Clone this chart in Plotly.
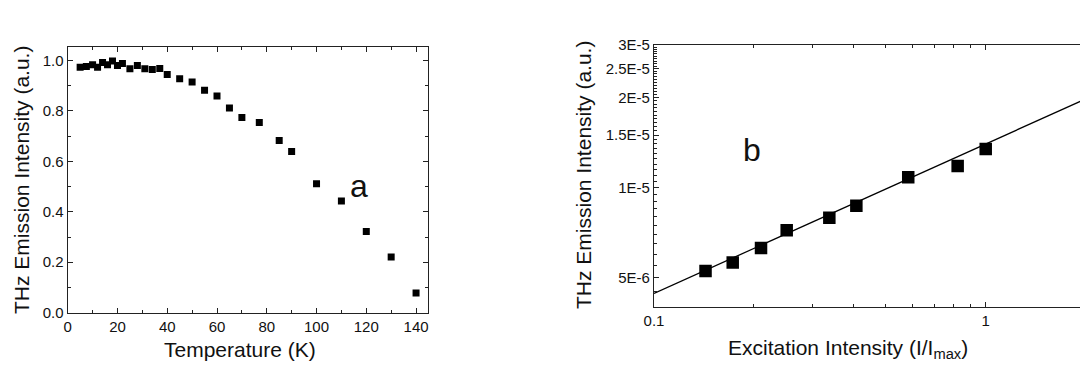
import plotly.graph_objects as go
import numpy as np

# Panel a: THz emission vs temperature
temp_K = [5, 7.5, 10, 12, 14, 16, 18, 20, 22, 25, 28, 31, 34, 37, 40, 45, 50, 55,
          60, 65, 70, 77, 85, 90, 100, 110, 120, 130, 140]
thz_a = [0.973, 0.976, 0.983, 0.973, 0.992, 0.983, 0.998, 0.980, 0.988, 0.967,
         0.980, 0.967, 0.964, 0.968, 0.944, 0.927, 0.914, 0.882, 0.859, 0.811,
         0.774, 0.754, 0.683, 0.639, 0.511, 0.443, 0.322, 0.221, 0.078]

# Panel b: THz emission vs excitation intensity (log-log)
exc_I = [0.143, 0.1727, 0.2102, 0.2512, 0.3377, 0.4074, 0.584, 0.823, 1.0]
thz_b = [5.27e-6, 5.62e-6, 6.28e-6, 7.20e-6, 7.93e-6, 8.70e-6, 1.083e-5, 1.182e-5, 1.346e-5]
fit_x = [0.1, 2.0]
fit_y = [4.43e-6, 1.98e-5]

ytick_b_vals = [5e-6, 1e-5, 1.5e-5, 2e-5, 2.5e-5, 3e-5]
ytick_b_text = ["5E-6", "1E-5", "1.5E-5", "2E-5", "2.5E-5", "3E-5"]
ytick_b_minor = [v * 1e-7 for v in range(40, 301, 5)]
xtick_b_vals = [0.1, 1]
xtick_b_text = ["0.1", "1"]
xtick_b_minor = [0.2, 0.3, 0.4, 0.5, 0.6, 0.7, 0.8, 0.9]

W, H = 1080, 365
FONT = "Liberation Sans, Arial, sans-serif"
AX = "#222222"

def px_x(p):
    return p / W

def px_y(p):
    return 1 - p / H

fig = go.Figure()
fig.add_trace(go.Scatter(x=temp_K, y=thz_a, mode="markers",
                         marker=dict(symbol="square", size=7, color="black"),
                         xaxis="x", yaxis="y", showlegend=False))
fig.add_trace(go.Scatter(x=fit_x, y=fit_y, mode="lines",
                         line=dict(color="black", width=1.3),
                         xaxis="x2", yaxis="y2", showlegend=False))
fig.add_trace(go.Scatter(x=exc_I, y=thz_b, mode="markers",
                         marker=dict(symbol="square", size=12.5, color="black"),
                         xaxis="x2", yaxis="y2", showlegend=False))

common = dict(showline=True, linecolor=AX, linewidth=1.2, ticks="inside",
              tickcolor=AX, ticklen=5, tickwidth=1, showgrid=False, zeroline=False,
              automargin=False,
              tickfont=dict(family=FONT, size=15, color="#111"))

xb_range = [-1, np.log10(1.924)]

fig.update_layout(
    width=W, height=H,
    margin=dict(l=0, r=0, t=0, b=0, autoexpand=False),
    plot_bgcolor="white", paper_bgcolor="white",
    xaxis=dict(domain=[px_x(67.7), px_x(428)], range=[0, 144.8],
               tickvals=[0, 20, 40, 60, 80, 100, 120, 140], mirror="ticks",
               minor=dict(tickvals=[10, 30, 50, 70, 90, 110, 130], ticks="inside",
                          ticklen=3, tickcolor=AX),
               anchor="y", **common),
    yaxis=dict(domain=[px_y(312.7), px_y(47.3)], range=[0, 1.052],
               tickvals=[0, 0.2, 0.4, 0.6, 0.8, 1.0], tickformat=".1f", mirror="ticks",
               minor=dict(tickvals=[0.1, 0.3, 0.5, 0.7, 0.9], ticks="inside",
                          ticklen=3, tickcolor=AX),
               anchor="x", **common),
    xaxis2=dict(domain=[px_x(654), 1.0], type="log", range=xb_range,
                tickvals=xtick_b_vals, ticktext=xtick_b_text, mirror=False,
                minor=dict(tickvals=xtick_b_minor, ticks="inside", ticklen=3, tickcolor=AX),
                anchor="y2", **common),
    xaxis3=dict(type="log", range=xb_range, overlaying="x2", side="top", anchor="y2",
                tickvals=xtick_b_vals, showticklabels=False, mirror=False,
                minor=dict(tickvals=xtick_b_minor, ticks="inside", ticklen=3, tickcolor=AX),
                **common),
    yaxis2=dict(domain=[px_y(306.7), px_y(45)], type="log",
                range=[np.log10(4e-6), np.log10(3e-5)],
                tickvals=ytick_b_vals, ticktext=ytick_b_text, mirror=False,
                minor=dict(tickvals=ytick_b_minor, ticks="inside", ticklen=3, tickcolor=AX),
                anchor="x2", **common),
)
# invisible trace so the top axis is rendered
fig.add_trace(go.Scatter(x=[exc_I[0]], y=[thz_b[0]], mode="markers",
                         marker=dict(size=1, opacity=0), hoverinfo="skip",
                         xaxis="x3", yaxis="y2", showlegend=False))

tf = dict(family=FONT, size=21, color="#111")
annots = [
    dict(text="THz Emission Intensity (a.u.)", x=px_x(21), y=px_y(180), textangle=-90),
    dict(text="Temperature (K)", x=px_x(240), y=px_y(349)),
    dict(text="THz Emission Intensity (a.u.)", x=px_x(584), y=px_y(175), textangle=-90),
    dict(text="Excitation Intensity (I/I<sub>max</sub>)", x=px_x(848), y=px_y(349)),
    dict(text="a", x=px_x(359), y=px_y(186), font=dict(family=FONT, size=32, color="#111")),
    dict(text="b", x=px_x(752), y=px_y(150), font=dict(family=FONT, size=32, color="#111")),
]
for a in annots:
    a.setdefault("font", tf)
    fig.add_annotation(xref="paper", yref="paper", showarrow=False,
                       xanchor="center", yanchor="middle", **a)

fig.write_html("out.html", config={"displayModeBar": False},
               post_script="document.body.style.margin='0';document.body.style.overflow='hidden';")
